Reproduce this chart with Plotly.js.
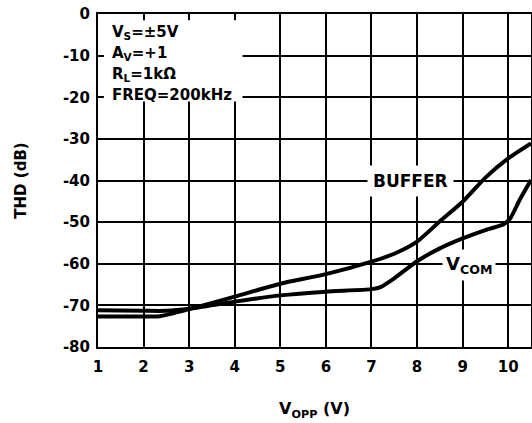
<!DOCTYPE html>
<html>
<head>
<meta charset="utf-8">
<script src="https://cdn.plot.ly/plotly-3.0.1.min.js"></script>
<style>html,body{margin:0;padding:0;background:#fff;}#chart{width:532px;height:423px;}</style>
</head>
<body>
<div id="chart"></div>
<script>
// Data
const bufferX = [1, 2, 2.35, 3, 4, 5, 6, 7, 7.5, 8, 8.5, 9, 9.5, 10, 10.5];
const bufferY = [-72.7, -72.7, -72.6, -70.9, -67.9, -64.8, -62.5, -59.5, -57.6, -54.7, -49.8, -45.1, -39.3, -34.7, -31.1];
const vcomX = [1, 2, 2.5, 3, 4, 5, 6, 7, 7.2, 7.5, 8, 8.5, 9, 9.5, 9.9, 10.05, 10.25, 10.5];
const vcomY = [-71.2, -71.3, -71.3, -70.8, -69.1, -67.6, -66.7, -66.1, -65.6, -63.5, -59.4, -56.3, -53.9, -51.9, -50.5, -49.0, -44.7, -39.9];
const xTicks = [1, 2, 3, 4, 5, 6, 7, 8, 9, 10];
const yTicks = [0, -10, -20, -30, -40, -50, -60, -70, -80];
const condLines = ['V<sub>S</sub>=±5V', 'A<sub>V</sub>=+1', 'R<sub>L</sub>=1kΩ', 'FREQ=200kHz'];
const condY = [-4.4, -9.5, -14.5, -19.5];

const fontBase = {family: 'DejaVu Sans, Arial, sans-serif', color: '#000', weight: 'bold'};

const traces = [
  {x: bufferX, y: bufferY, mode: 'lines', line: {color: '#000', width: 4, shape: 'spline', smoothing: 0.6}, name: 'BUFFER', hoverinfo: 'skip'},
  {x: vcomX, y: vcomY, mode: 'lines', line: {color: '#000', width: 4, shape: 'spline', smoothing: 0.6}, name: 'VCOM', hoverinfo: 'skip'}
];

const annotations = condLines.map((t, i) => ({
  x: 1.26, y: condY[i], xref: 'x', yref: 'y', text: t, showarrow: false,
  xanchor: 'left', yanchor: 'middle', font: Object.assign({}, fontBase, {size: 15})
}));
annotations.push({
  x: 7.85, y: -40, xref: 'x', yref: 'y', text: 'BUFFER', showarrow: false,
  xanchor: 'center', yanchor: 'middle', bgcolor: '#fff', borderpad: 5,
  font: Object.assign({}, fontBase, {size: 17})
});
annotations.push({
  x: 9.14, y: -60.2, xref: 'x', yref: 'y', text: 'V<sub>COM</sub>', showarrow: false,
  xanchor: 'center', yanchor: 'middle', bgcolor: '#fff', borderpad: 3,
  font: Object.assign({}, fontBase, {size: 18})
});

const layout = {
  width: 532, height: 423,
  margin: {l: 98, r: 1, t: 14, b: 76},
  paper_bgcolor: '#fff', plot_bgcolor: '#fff',
  showlegend: false,
  font: Object.assign({}, fontBase, {size: 15}),
  xaxis: {
    range: [1, 10.5], tickvals: xTicks, ticktext: xTicks.map(String),
    showgrid: true, gridcolor: '#000', gridwidth: 2,
    showline: true, linecolor: '#000', linewidth: 2, mirror: true,
    zeroline: false, ticks: '', ticklabelstandoff: 5,
    tickfont: Object.assign({}, fontBase, {size: 15}),
    title: {text: 'V<sub>OPP</sub> (V)', font: Object.assign({}, fontBase, {size: 16}), standoff: 28}
  },
  yaxis: {
    range: [-80, 0], tickvals: yTicks, ticktext: yTicks.map(String),
    showgrid: true, gridcolor: '#000', gridwidth: 2,
    showline: true, linecolor: '#000', linewidth: 2, mirror: true,
    zeroline: false, ticks: '', ticklabelstandoff: 3,
    tickfont: Object.assign({}, fontBase, {size: 15}),
    title: {text: 'THD (dB)', font: Object.assign({}, fontBase, {size: 15}), standoff: 33}
  },
  shapes: [
    {type: 'rect', xref: 'x', yref: 'y', x0: 1.13, x1: 4.17, y0: -1.5, y1: -21, fillcolor: '#fff', line: {width: 0}, layer: 'between'}
  ],
  annotations: annotations
};

Plotly.newPlot('chart', traces, layout, {displayModeBar: false, staticPlot: true});
</script>
</body>
</html>
